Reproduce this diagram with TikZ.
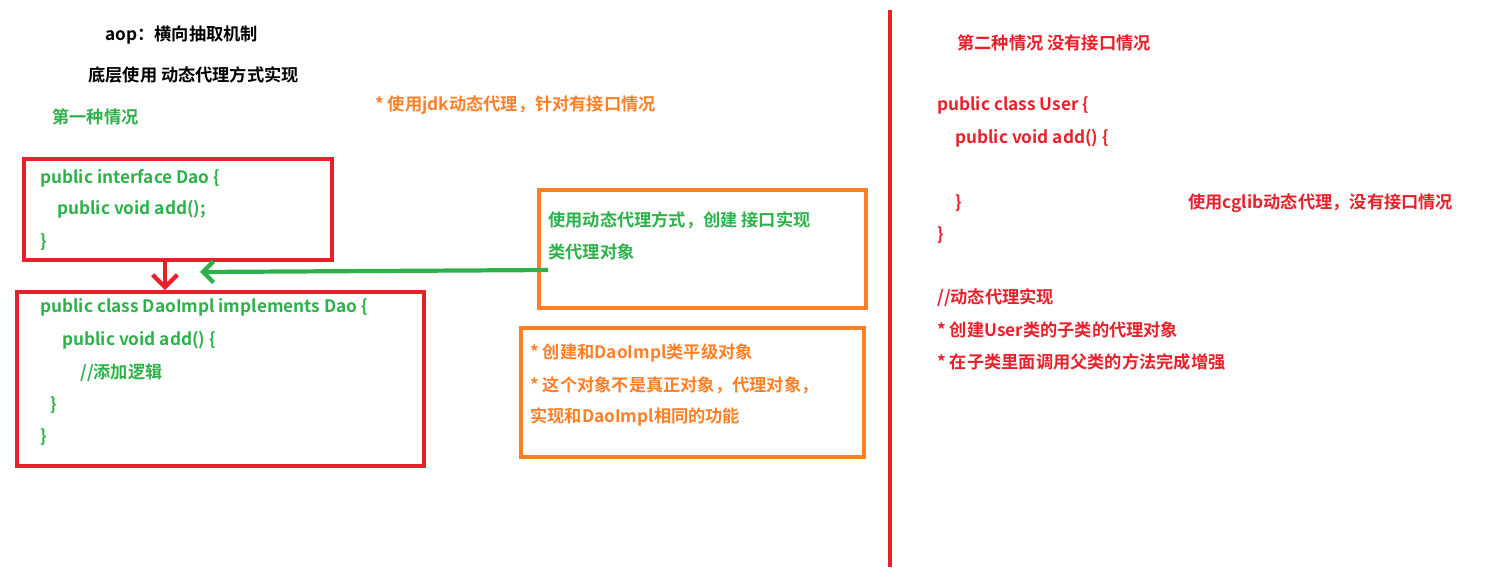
\documentclass[tikz,border=0pt]{standalone}
\usepackage{fontspec}
\setmainfont{Noto Sans CJK SC}[BoldFont={* Bold}]
\usetikzlibrary{arrows.meta}
\definecolor{aopred}{HTML}{E8202A}
\definecolor{aopgreen}{HTML}{2DB14A}
\definecolor{aoporange}{HTML}{FF7F27}
\tikzset{
  txt/.style={anchor=west, inner sep=0pt, font=\fontsize{9.8}{11}\selectfont\bfseries},
  frame/.style={draw=#1, line width=2.4pt, anchor=north west, inner sep=0pt},
}
\begin{document}
\begin{tikzpicture}[x=0.02cm, y=-0.02cm]
\useasboundingbox (0,0) rectangle (1500,582);
% titles
\node[txt] (t1) at (105,35) {aop：横向抽取机制};
\node[txt] (t2) at (88,75) {底层使用 动态代理方式实现};
\node[txt, aopgreen] (case1) at (52,117) {第一种情况};
\node[txt, aoporange] (jdk) at (375,105) {* 使用jdk动态代理，针对有接口情况};
% interface box
\node[frame=aopred, minimum width=6.16cm, minimum height=2.02cm] (dao) at (22,157) {};
\node[txt, aopgreen] (d1) at (40,178) {public interface Dao \{};
\node[txt, aopgreen] (d2) at (57,209) {public void add();};
\node[txt, aopgreen] (d3) at (40,242) {\}};
% impl box
\node[frame=aopred, minimum width=8.14cm, minimum height=3.48cm] (impl) at (15,290) {};
\node[txt, aopgreen] (i1) at (40,307) {public class DaoImpl implements Dao \{};
\node[txt, aopgreen] (i2) at (62,340) {public void add() \{};
\node[txt, aopgreen] (i3) at (80,373) {//添加逻辑};
\node[txt, aopgreen] (i4) at (50,405) {\}};
\node[txt, aopgreen] (i5) at (40,437) {\}};
\coordinate (down) at (165,258);
\draw[aopred, line width=2.4pt, -{Straight Barb[length=7pt,width=14pt]}] (down) -- (down |- impl.north);
% proxy box
\node[frame=aoporange, minimum width=6.54cm, minimum height=2.36cm] (proxy) at (537,188) {};
\node[txt, aopgreen] (p1) at (548,220) {使用动态代理方式，创建 接口实现};
\node[txt, aopgreen] (p2) at (548,252) {类代理对象};
\coordinate (pstart) at (548,270);
\coordinate (pend) at (200,272);
\draw[aopgreen, line width=2.4pt, -{Straight Barb[length=6pt,width=12pt]}] (pstart) -- (pend);
% note box
\node[frame=aoporange, minimum width=6.86cm, minimum height=2.58cm] (note) at (519,326) {};
\node[txt, aoporange] (n1) at (530,353) {* 创建和DaoImpl类平级对象};
\node[txt, aoporange] (n2) at (530,385) {* 这个对象不是真正对象，代理对象，};
\node[txt, aoporange] (n3) at (530,417) {实现和DaoImpl相同的功能};
% divider
\coordinate (top) at (890,10);
\coordinate (bot) at (890,567);
\draw[aopred, line width=2.4pt] (top) -- (bot);
% second case
\node[txt, aopred] (case2) at (957,43) {第二种情况 没有接口情况};
\node[txt, aopred] (u1) at (937,105) {public class User \{};
\node[txt, aopred] (u2) at (955,138) {public void add() \{};
\node[txt, aopred] (u3) at (955,203) {\}};
\node[txt, aopred] (cglib) at (1188,203) {使用cglib动态代理，没有接口情况};
\node[txt, aopred] (u4) at (937,235) {\}};
\node[txt, aopred] (c1) at (937,298) {//动态代理实现};
\node[txt, aopred] (c2) at (937,330) {* 创建User类的子类的代理对象};
\node[txt, aopred] (c3) at (937,362) {* 在子类里面调用父类的方法完成增强};
\end{tikzpicture}
\end{document}
